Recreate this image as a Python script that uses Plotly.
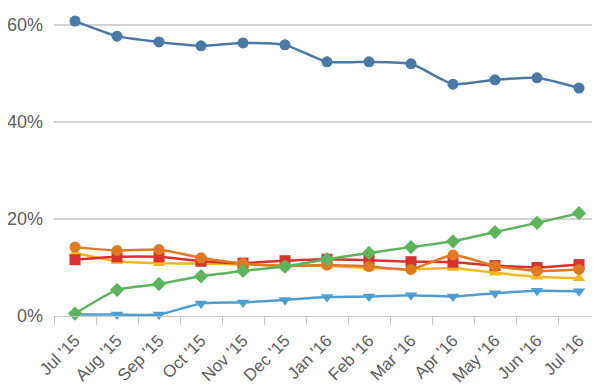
import plotly.graph_objects as go

months = ["Jul '15", "Aug '15", "Sep '15", "Oct '15", "Nov '15", "Dec '15",
          "Jan '16", "Feb '16", "Mar '16", "Apr '16", "May '16", "Jun '16", "Jul '16"]

s_blue = [60.8, 57.7, 56.5, 55.7, 56.3, 55.9, 52.4, 52.4, 52.0, 47.8, 48.7, 49.1, 47.0]
s_green = [0.5, 5.4, 6.6, 8.2, 9.3, 10.2, 11.7, 13.0, 14.2, 15.4, 17.3, 19.2, 21.2]
s_sky = [0.3, 0.3, 0.3, 2.6, 2.8, 3.3, 3.9, 4.0, 4.3, 4.0, 4.7, 5.2, 5.1]
s_red = [11.6, 12.2, 12.2, 11.3, 10.9, 11.4, 11.7, 11.5, 11.2, 11.1, 10.4, 10.0, 10.6]
s_orange = [14.2, 13.5, 13.7, 12.0, 10.8, 10.3, 10.5, 10.2, 9.6, 12.6, 10.3, 9.3, 9.6]
s_yellow = [13.0, 11.3, 10.9, 10.8, 10.6, 10.4, 10.3, 9.9, 9.6, 9.9, 8.9, 8.1, 7.8]

y_ticks = [0, 20, 40, 60]
y_labels = ["0%", "20%", "40%", "60%"]

series = [
    (s_yellow, "#f2b81c", "triangle-up"),
    (s_red, "#d9312f", "square"),
    (s_orange, "#e07a22", "circle"),
    (s_sky, "#4c9fd0", "triangle-down"),
    (s_green, "#5cb55c", "diamond"),
    (s_blue, "#4a79a8", "circle"),
]

fig = go.Figure()
for vals, color, sym in series:
    fig.add_trace(go.Scatter(
        x=months, y=vals, mode="lines+markers",
        line=dict(color=color, width=2.5, shape="spline", smoothing=0.5),
        marker=dict(color=color, symbol=sym, size=11),
        cliponaxis=False, showlegend=False,
    ))

# page body has an 8px margin; compensate so the plot lands where the reference has it
fig.update_layout(
    width=600, height=392,
    margin=dict(l=46, r=8, t=0, b=84),
    plot_bgcolor="white", paper_bgcolor="white",
    font=dict(family="Liberation Sans, Arial, sans-serif", color="#606060", size=16),
)
fig.update_xaxes(
    type="category", range=[-0.5, 12.5], tickangle=-45, automargin=False,
    showgrid=False, showline=True, linecolor="#c8c8c8", linewidth=1,
    ticks="outside", tickson="boundaries", ticklen=8, tickcolor="#c8c8c8",
    ticklabelstandoff=7,
    tickfont=dict(size=17, color="#606060"),
)
fig.update_yaxes(
    range=[0, 63.5], tickvals=y_ticks, ticktext=y_labels, automargin=False,
    showgrid=True, gridcolor="#d4d4d4", gridwidth=1.5, zeroline=False,
    showline=False, ticks="", ticklabelstandoff=10,
    tickfont=dict(size=18, color="#606060"),
)

fig.write_html("out.html")
